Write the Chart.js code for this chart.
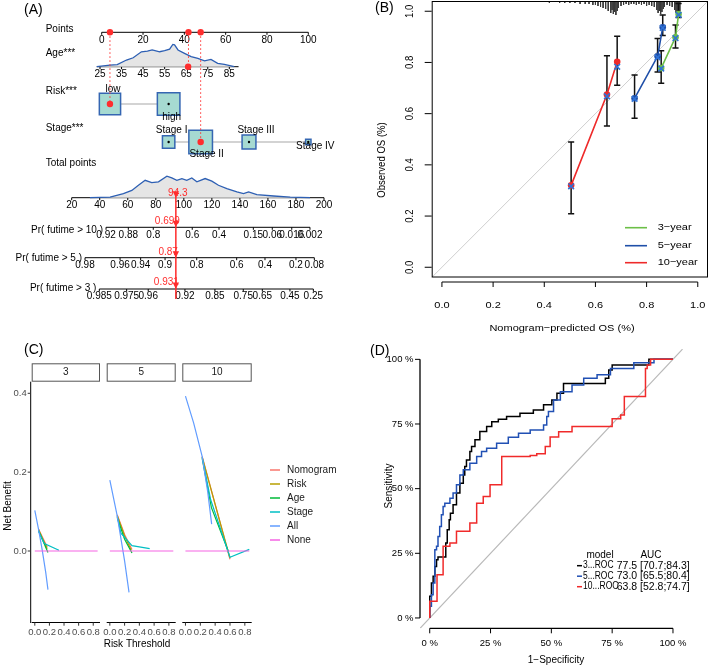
<!DOCTYPE html>
<html>
<head>
<meta charset="utf-8">
<script src="https://cdn.jsdelivr.net/npm/chart.js@4.4.1/dist/chart.umd.min.js"></script>
<style>
  html, body { margin: 0; padding: 0; background: #fff; }
  #fig { position: relative; width: 709px; height: 666px; overflow: hidden; background: #fff; }
  #fig canvas { position: absolute; left: 0; top: 0; }
</style>
</head>
<body>
<div id="fig">
  <canvas id="cA" width="709" height="666"></canvas>
  <canvas id="cB" width="709" height="666"></canvas>
  <canvas id="cC0" width="709" height="666"></canvas>
  <canvas id="cC1" width="709" height="666"></canvas>
  <canvas id="cC2" width="709" height="666"></canvas>
  <canvas id="cD" width="709" height="666"></canvas>
</div>
<script>
// ---------- (A) nomogram ----------
const pointTicks = [0, 20, 40, 60, 80, 100];
const ageTicks = [25, 35, 45, 55, 65, 75, 85];
const totalTicks = [20, 40, 60, 80, 100, 120, 140, 160, 180, 200];
const ageGrid = [23.5, 29.6, 33, 37.3, 40.4, 44.2, 47, 49.2, 52.7, 55, 57.3, 58.8, 59.6, 61.2, 64.2, 67.3, 70.4, 73.5, 76.5, 79.6, 82.7, 87.3];
const ageDensity = [0, 0.075, 0.09, 0.3, 0.4, 0.67, 0.7, 0.75, 0.67, 0.72, 0.79, 1.0, 0.98, 0.75, 0.6, 0.45, 0.37, 0.26, 0.33, 0.15, 0.1, 0];
const totalGrid = [33, 47.4, 56.9, 62.9, 67.6, 72.4, 77.1, 81.9, 87.9, 91.4, 95, 98.6, 102.1, 105.7, 109.3, 115.2, 120, 124.7, 130.7, 137.9, 142.6, 146.2, 152.1, 164, 175.9, 190];
const totalDensity = [0, 0.03, 0.19, 0.34, 0.58, 0.81, 0.7, 0.74, 1.0, 0.92, 0.81, 0.89, 0.81, 0.92, 0.74, 0.89, 0.77, 0.58, 0.42, 0.27, 0.19, 0.27, 0.14, 0.08, 0.03, 0];
const riskLevels = ['low', 'high'];
const riskPoints = [4, 32.4];
const riskFreq = [0.47, 0.53];
const stageLevels = ['Stage I', 'Stage II', 'Stage III', 'Stage IV'];
const stagePoints = [32.4, 47.9, 71.3, 100];
const stageFreq = [0.16, 0.58, 0.2, 0.03];
const obsAge = 65.9;
const obsRisk = 0, obsStage = 1;
const obsPoints = [4, 42, 47.9];
const obsTotal = 94.3;
const obsProb = ['0.699', '0.87', '0.931'];
const pr10Labels = ['0.92', '0.88', '0.8', '0.6', '0.4', '0.15', '0.06', '0.016', '0.002'];
const pr10AtTotal = [44.5, 60.4, 78.2, 106, 125.1, 149.6, 163.1, 177, 190];
const pr5Labels = ['0.98', '0.96', '0.94', '0.9', '0.8', '0.6', '0.4', '0.2', '0.08'];
const pr5AtTotal = [29.5, 54.5, 69.2, 86.6, 109.2, 137.7, 157.9, 180, 193.1];
const pr3Labels = ['0.985', '0.975', '0.96', '0.92', '0.85', '0.75', '0.65', '0.45', '0.25'];
const pr3AtTotal = [39.7, 59.2, 74.6, 100.8, 122.2, 142.4, 156, 175.7, 192.4];

// ---------- (B) calibration ----------
const calTicks = [0, 0.2, 0.4, 0.6, 0.8, 1.0];
const horizons = ['3\u2212year', '5\u2212year', '10\u2212year'];
const calPred3 = [0.857, 0.913, 0.925];
const calObs3 = [0.778, 0.898, 0.989];
const calLo3 = [0.719, 0.856, 0.976];
const calHi3 = [0.846, 0.946, 1.03];
const calCorr3 = [0.776, 0.895, 0.986];
const calPred5 = [0.753, 0.843, 0.863];
const calObs5 = [0.66, 0.824, 0.937];
const calLo5 = [0.582, 0.763, 0.905];
const calHi5 = [0.751, 0.894, 0.985];
const calCorr5 = [0.658, 0.82, 0.935];
const calPred10 = [0.505, 0.645, 0.685];
const calObs10 = [0.32, 0.675, 0.803];
const calLo10 = [0.209, 0.552, 0.711];
const calHi10 = [0.489, 0.826, 0.902];
const calCorr10 = [0.316, 0.668, 0.783];
const spikeX = [0.16, 0.2, 0.24, 0.28, 0.31, 0.34, 0.37, 0.4, 0.42, 0.44, 0.46, 0.48, 0.5, 0.52, 0.54, 0.56, 0.575, 0.59, 0.6, 0.61, 0.62, 0.63, 0.64, 0.65, 0.66, 0.665, 0.67, 0.675, 0.68, 0.685, 0.69, 0.7, 0.71, 0.72, 0.73, 0.74, 0.75, 0.76, 0.77, 0.78, 0.79, 0.8, 0.81, 0.82, 0.83, 0.84, 0.845, 0.85, 0.855, 0.86, 0.865, 0.87, 0.88, 0.89, 0.9, 0.91, 0.915, 0.92, 0.925, 0.93];
const spikeN = [1, 1, 1, 1, 1, 1, 1, 1, 2, 1, 2, 2, 2, 2, 3, 3, 3, 4, 4, 5, 6, 7, 8, 10, 12, 9, 13, 11, 14, 10, 7, 5, 4, 3, 4, 3, 3, 4, 3, 4, 3, 5, 4, 5, 6, 9, 12, 10, 13, 11, 8, 6, 4, 5, 6, 9, 12, 13, 12, 10];

// ---------- (C) decision curves ----------
const dcaModels = ['Nomogram', 'Risk', 'Age', 'Stage', 'All', 'None'];
const dcaFacets = ['3', '5', '10'];
const dcaXTicks = [0, 0.2, 0.4, 0.6, 0.8];
const dcaYTicks = [0, 0.2, 0.4];
const dcaNone = [[0, 0], [0.86, 0]];
const dcaNomogram3 = [[0.05, 0.056], [0.11, 0.033], [0.17, 0.01]];
const dcaRisk3 = [[0.05, 0.055], [0.11, 0.03], [0.17, 0.006]];
const dcaAge3 = [[0.05, 0.052], [0.12, 0.022], [0.18, -0.004]];
const dcaStage3 = [[0.05, 0.05], [0.13, 0.019], [0.33, 0.002]];
const dcaAll3 = [[0, 0.103], [0.05, 0.056], [0.1, 0.004], [0.15, -0.055], [0.18, -0.098]];
const dcaNomogram5 = [[0.1, 0.092], [0.2, 0.042], [0.3, 0.004]];
const dcaRisk5 = [[0.1, 0.09], [0.2, 0.038], [0.29, 0.002]];
const dcaAge5 = [[0.1, 0.085], [0.2, 0.03], [0.3, -0.005]];
const dcaStage5 = [[0.1, 0.088], [0.15, 0.045], [0.3, 0.0135], [0.54, 0.006]];
const dcaAll5 = [[0, 0.18], [0.1, 0.089], [0.2, -0.025], [0.26, -0.105]];
const dcaNomogram10 = [[0.225, 0.24], [0.6, -0.021]];
const dcaRisk10 = [[0.225, 0.238], [0.6, -0.018]];
const dcaAge10 = [[0.225, 0.235], [0.35, 0.11], [0.58, -0.002]];
const dcaStage10 = [[0.225, 0.238], [0.34, 0.13], [0.6, -0.016], [0.86, 0.004]];
const dcaAll10 = [[0, 0.393], [0.11, 0.325], [0.225, 0.24], [0.3, 0.15], [0.353, 0.068]];

// ---------- (D) ROC ----------
const rocTicks = [0, 0.25, 0.5, 0.75, 1];
const rocTickLabels = ['0 %', '25 %', '50 %', '75 %', '100 %'];
const rocModels = ['3...ROC', '5...ROC', '10...ROC'];
const rocAuc = ['77.5 [70.7;84.3]', '73.0 [65.5;80.4]', '63.8 [52.8;74.7]'];
// (FPR, TPR): climb to TPR at the previous FPR, then run right to this FPR
const roc3 = [[0, 0], [0.007, 0.084], [0.014, 0.135], [0.021, 0.161], [0.028, 0.199], [0.034, 0.225], [0.066, 0.236], [0.072, 0.29], [0.08, 0.341], [0.085, 0.38], [0.096, 0.405], [0.11, 0.438], [0.124, 0.483], [0.138, 0.521], [0.144, 0.553], [0.151, 0.586], [0.165, 0.611], [0.172, 0.644], [0.186, 0.663], [0.206, 0.689], [0.234, 0.721], [0.255, 0.74], [0.282, 0.759], [0.316, 0.768], [0.371, 0.779], [0.426, 0.792], [0.468, 0.804], [0.502, 0.824], [0.523, 0.843], [0.55, 0.869], [0.585, 0.907], [0.722, 0.907], [0.736, 0.927], [0.75, 0.959], [0.77, 0.978], [0.901, 0.978], [0.908, 1.0], [1, 1]];
const roc5 = [[0, 0], [0.007, 0.045], [0.014, 0.09], [0.021, 0.135], [0.028, 0.264], [0.034, 0.277], [0.041, 0.315], [0.048, 0.354], [0.055, 0.399], [0.062, 0.431], [0.083, 0.444], [0.096, 0.463], [0.11, 0.483], [0.124, 0.515], [0.138, 0.553], [0.165, 0.573], [0.193, 0.598], [0.213, 0.624], [0.234, 0.644], [0.275, 0.656], [0.323, 0.676], [0.365, 0.699], [0.413, 0.714], [0.468, 0.727], [0.481, 0.746], [0.488, 0.779], [0.509, 0.798], [0.537, 0.843], [0.585, 0.875], [0.633, 0.901], [0.688, 0.927], [0.743, 0.94], [0.839, 0.965], [0.922, 0.987], [0.942, 1.0], [1, 1]];
const roc10 = [[0, 0], [0.03, 0.065], [0.055, 0.167], [0.083, 0.277], [0.11, 0.29], [0.165, 0.335], [0.193, 0.367], [0.22, 0.444], [0.248, 0.47], [0.296, 0.515], [0.413, 0.624], [0.44, 0.628], [0.475, 0.635], [0.495, 0.663], [0.53, 0.7], [0.585, 0.72], [0.75, 0.74], [0.785, 0.77], [0.8, 0.785], [0.887, 0.856], [0.894, 0.965], [0.908, 0.978], [1, 1]];

// ---------- helpers ----------
const W = 709, H = 666;
const FONT = '"Liberation Sans", Arial, Helvetica, sans-serif';
const RED = '#ff2d2d';

// scale min/max so that value v0 lands on pixel p0 and v1 on p1
function fit(v0, p0, v1, p1, a0, a1) {
  const k = (p1 - p0) / (v1 - v0);
  return { min: v0 + (a0 - p0) / k, max: v0 + (a1 - p0) / k };
}
function lin(range, extra) {
  return Object.assign({ type: 'linear', display: false }, range, extra || {});
}
function text(ctx, s, x, y, o) {
  o = o || {};
  ctx.save();
  ctx.font = (o.size || 10) + 'px ' + FONT;
  ctx.fillStyle = o.color || '#000';
  ctx.textAlign = o.align || 'center';
  ctx.textBaseline = 'middle';
  ctx.translate(x, y);
  if (o.sy) ctx.scale(1, o.sy);
  if (o.rot) ctx.rotate(o.rot);
  if (o.maxW) ctx.fillText(s, 0, 0, o.maxW);
  else ctx.fillText(s, 0, 0);
  ctx.restore();
}
function seg(ctx, x1, y1, x2, y2, col, lw) {
  ctx.save();
  ctx.strokeStyle = col || '#000';
  ctx.lineWidth = lw || 1;
  ctx.beginPath();
  ctx.moveTo(x1, y1);
  ctx.lineTo(x2, y2);
  ctx.stroke();
  ctx.restore();
}
const xy = (xs, ys) => xs.map((x, i) => ({ x, y: ys[i] }));
const pairs = ps => ps.map(p => ({ x: p[0], y: p[1] }));
function lineDs(data, color, width, extra) {
  return Object.assign({ type: 'line', data, borderColor: color, borderWidth: width, pointRadius: 0, fill: false, tension: 0 }, extra || {});
}
function ptDs(data, extra) {
  return Object.assign({ type: 'scatter', data, pointRadius: 3, borderWidth: 0 }, extra || {});
}
function makeChart(id, area, scales, datasets, before, after) {
  datasets.forEach((d, i) => { d.order = -i; });   // later datasets on top
  return new Chart(document.getElementById(id), {
    type: 'scatter',
    data: { datasets },
    options: {
      responsive: false,
      animation: false,
      events: [],
      layout: { autoPadding: false, padding: { left: area.l, top: area.t, right: W - area.r, bottom: H - area.b } },
      plugins: { legend: { display: false }, tooltip: { enabled: false } },
      scales
    },
    plugins: [{
      id: 'deco_' + id,
      beforeDatasetsDraw: c => { if (before) before(c); },
      afterDatasetsDraw: c => { if (after) after(c); }
    }]
  });
}

// ================= (A) =================
const rowY = { points: 32.3, age: 66.7, risk: 104, stage: 142, total: 197.7, pr10: 227.3, pr5: 257.7, pr3: 289 };
const boxFill = '#a6dad1', boxLine = '#3566b2';
const boxRadius = f => 31 * Math.sqrt(f) / Math.SQRT2;

const scalesA = {
  xp: lin(fit(0, 101.7, 100, 308.3, 0, W), { axis: 'x' }),
  xa: lin(fit(25, 100, 85, 229.3, 0, W), { axis: 'x' }),
  xt: lin(fit(20, 71.7, 200, 324, 0, W), { axis: 'x' }),
  yr: lin({ min: 0, max: H }, { axis: 'y', reverse: true }),
  yad: lin(fit(0, rowY.age, 1, rowY.age - 22.3, H, 0), { axis: 'y' }),
  ytd: lin(fit(0, rowY.total, 1, rowY.total - 21.5, H, 0), { axis: 'y' })
};
const onP = { xAxisID: 'xp', yAxisID: 'yr' };
const guides = [];
[rowY.risk, rowY.age, rowY.stage].forEach((yEnd, i) => {
  guides.push({ x: obsPoints[i], y: rowY.points }, { x: obsPoints[i], y: yEnd }, { x: obsPoints[i], y: null });
});
const blackDots = [];
riskPoints.forEach((p, i) => { if (i !== obsRisk) blackDots.push({ x: p, y: rowY.risk }); });
stagePoints.forEach((p, i) => { if (i !== obsStage) blackDots.push({ x: p, y: rowY.stage }); });

const dsA = [
  lineDs(xy(ageGrid, ageDensity), '#2d5fb3', 1.3, { xAxisID: 'xa', yAxisID: 'yad', fill: 'origin', backgroundColor: '#e5e5e5' }),
  lineDs(xy(totalGrid, totalDensity), '#2d5fb3', 1.3, { xAxisID: 'xt', yAxisID: 'ytd', fill: 'origin', backgroundColor: '#e5e5e5' }),
  lineDs([{ x: riskPoints[0], y: rowY.risk }, { x: riskPoints[1], y: rowY.risk }], '#c4c4c4', 1.6, onP),
  lineDs([{ x: stagePoints[0], y: rowY.stage }, { x: stagePoints[3], y: rowY.stage }], '#c4c4c4', 1.6, onP),
  ptDs(riskPoints.map(p => ({ x: p, y: rowY.risk })), Object.assign({ pointStyle: 'rect', pointRadius: riskFreq.map(boxRadius), backgroundColor: boxFill, borderColor: boxLine, borderWidth: 1.5 }, onP)),
  ptDs(stagePoints.map(p => ({ x: p, y: rowY.stage })), Object.assign({ pointStyle: 'rect', pointRadius: stageFreq.map(boxRadius), backgroundColor: boxFill, borderColor: boxLine, borderWidth: 1.5 }, onP)),
  ptDs(blackDots, Object.assign({ pointRadius: 1.2, backgroundColor: '#000' }, onP)),
  lineDs(guides, RED, 1, Object.assign({ borderDash: [1.5, 2.5] }, onP)),
  ptDs(obsPoints.map(p => ({ x: p, y: rowY.points })).concat([{ x: riskPoints[obsRisk], y: rowY.risk }, { x: stagePoints[obsStage], y: rowY.stage }]), Object.assign({ pointRadius: 3.2, backgroundColor: RED }, onP)),
  ptDs([{ x: obsAge, y: rowY.age }], { xAxisID: 'xa', yAxisID: 'yr', pointRadius: 3.2, backgroundColor: RED }),
  lineDs([{ x: obsTotal, y: rowY.total - 3 }, { x: obsTotal, y: rowY.pr3 + 10 }], RED, 1.5, { xAxisID: 'xt', yAxisID: 'yr' })
];

function axisH(ctx, px, y, ticks, labels, from, to) {
  seg(ctx, px(from), y, px(to), y, '#000', 1);
  ticks.forEach((t, i) => {
    const x = px(t);
    seg(ctx, x, y, x, y + 2.5, '#000', 1);
    text(ctx, labels[i], x, y + 7.5, { size: 10 });
  });
}
function drawAxesA(c) {
  const ctx = c.ctx, s = c.scales;
  const xp = v => s.xp.getPixelForValue(v), xa = v => s.xa.getPixelForValue(v), xt = v => s.xt.getPixelForValue(v);
  axisH(ctx, xp, rowY.points, pointTicks, pointTicks.map(String), 0, 100);
  axisH(ctx, xa, rowY.age, ageTicks, ageTicks.map(String), ageGrid[0], 89.3);
  axisH(ctx, xt, rowY.total, totalTicks, totalTicks.map(String), 20, 200);
  axisH(ctx, xt, rowY.pr10, pr10AtTotal, pr10Labels, pr10AtTotal[0], pr10AtTotal[8]);
  axisH(ctx, xt, rowY.pr5, pr5AtTotal, pr5Labels, pr5AtTotal[0], pr5AtTotal[8]);
  axisH(ctx, xt, rowY.pr3, pr3AtTotal, pr3Labels, pr3AtTotal[0], pr3AtTotal[8]);
}
function drawTopA(c) {
  const ctx = c.ctx, s = c.scales;
  const xp = v => s.xp.getPixelForValue(v), xt = v => s.xt.getPixelForValue(v);
  text(ctx, '(A)', 24, 10, { size: 14, align: 'left' });
  text(ctx, 'Points', 45.7, rowY.points - 3, { align: 'left' });
  text(ctx, 'Age***', 45.7, 53.3, { align: 'left' });
  text(ctx, 'Risk***', 45.7, 91.7, { align: 'left' });
  text(ctx, 'Stage***', 45.7, 128.3, { align: 'left' });
  text(ctx, 'Total points', 45.7, 163.3, { align: 'left' });
  text(ctx, 'Pr( futime > 10 )', xt(pr10AtTotal[0]) - 3, rowY.pr10 + 3, { align: 'right' });
  text(ctx, 'Pr( futime > 5 )', xt(pr5AtTotal[0]) - 3, rowY.pr5 + 1, { align: 'right' });
  text(ctx, 'Pr( futime > 3 )', xt(pr3AtTotal[0]) - 3, rowY.pr3 - 1, { align: 'right' });
  // level labels beside the boxes
  text(ctx, riskLevels[0], xp(riskPoints[0]) + 3, 89.3);
  text(ctx, riskLevels[1], xp(riskPoints[1]) + 3, 117);
  const stDx = [3, 6, 7, 7], stY = [130.7, 154.5, 130, 146];
  stageLevels.forEach((l, i) => text(ctx, l, xp(stagePoints[i]) + stDx[i], stY[i]));
  // red arrows and values
  const ax = xt(obsTotal);
  ctx.save();
  ctx.fillStyle = RED;
  [rowY.total, rowY.pr10, rowY.pr5, rowY.pr3].forEach(y => {
    ctx.beginPath(); ctx.moveTo(ax - 3.2, y - 6.5); ctx.lineTo(ax + 3.2, y - 6.5); ctx.lineTo(ax, y); ctx.closePath(); ctx.fill();
  });
  ctx.restore();
  text(ctx, String(obsTotal), ax + 2, rowY.total - 4, { color: RED });
  text(ctx, obsProb[0], ax + 4, rowY.pr10 - 5.6, { color: RED, align: 'right' });
  text(ctx, obsProb[1], ax + 2, rowY.pr5 - 5, { color: RED, align: 'right' });
  text(ctx, obsProb[2], ax + 3, rowY.pr3 - 7, { color: RED, align: 'right' });
}
makeChart('cA', { l: 0, t: 0, r: W, b: H }, scalesA, dsA, drawAxesA, drawTopA);

// ================= (B) =================
const calGreen = '#6cbf47', calBlue = '#1f4fa8', calRed = '#ee2a2a', corrBlue = '#2f72d6';
function errBars(pred, lo, hi) {
  const d = [], w = 0.012;
  pred.forEach((p, i) => {
    d.push({ x: p, y: lo[i] }, { x: p, y: hi[i] }, { x: p, y: null },
      { x: p - w, y: hi[i] }, { x: p + w, y: hi[i] }, { x: p, y: null },
      { x: p - w, y: lo[i] }, { x: p + w, y: lo[i] }, { x: p, y: null });
  });
  return d;
}
const spikes = [];
spikeX.forEach((x, i) => { spikes.push({ x, y: 1.04 }, { x, y: 1.04 - spikeN[i] * 0.0039 }, { x, y: null }); });
const dsB = [
  lineDs([{ x: -0.04, y: -0.04 }, { x: 1.04, y: 1.04 }], '#cfcfcf', 1),
  lineDs(spikes, '#3a3a3a', 1),
  lineDs(errBars(calPred10, calLo10, calHi10).concat(errBars(calPred5, calLo5, calHi5), errBars(calPred3, calLo3, calHi3)), '#111', 1.5),
  lineDs(xy(calPred10, calObs10), calRed, 1.6),
  lineDs(xy(calPred5, calObs5), calBlue, 1.6),
  lineDs(xy(calPred3, calObs3), calGreen, 1.6),
  ptDs(xy(calPred10, calObs10), { pointRadius: 3.3, backgroundColor: calRed }),
  ptDs(xy(calPred5, calObs5), { pointRadius: 3.3, backgroundColor: calBlue }),
  ptDs(xy(calPred3, calObs3), { pointRadius: 3.3, backgroundColor: calGreen }),
  ptDs(xy(calPred10, calCorr10).concat(xy(calPred5, calCorr5), xy(calPred3, calCorr3)), { pointStyle: 'crossRot', pointRadius: 4, borderColor: corrBlue, borderWidth: 1.6 })
];
function drawB(c) {
  const ctx = c.ctx, a = c.chartArea, x = c.scales.x, y = c.scales.y;
  const sq = 0.87;
  ctx.save(); ctx.strokeStyle = '#000'; ctx.lineWidth = 1;
  ctx.strokeRect(a.left + 0.5, a.top + 0.5, a.right - a.left - 1, a.bottom - a.top - 1);
  ctx.restore();
  calTicks.forEach(t => {
    const py = y.getPixelForValue(t);
    seg(ctx, a.left, py, a.left - 7, py, '#000', 1);
    text(ctx, t.toFixed(1), 410, py, { size: 11, rot: -Math.PI / 2, sy: sq });
    const px = x.getPixelForValue(t);
    seg(ctx, px, 282, px, 287, '#000', 1);
    text(ctx, t.toFixed(1), px, 305, { size: 11, sy: sq });
  });
  seg(ctx, x.getPixelForValue(0), 282, x.getPixelForValue(1), 282, '#000', 1);
  text(ctx, '(B)', 375, 8.5, { size: 14, align: 'left' });
  text(ctx, 'Observed OS (%)', 381.7, 160, { size: 11, rot: -Math.PI / 2, sy: sq });
  text(ctx, 'Nomogram\u2212predicted OS (%)', 562, 328, { size: 11, sy: sq });
  [calGreen, calBlue, calRed].forEach((col, i) => {
    const ly = [227.7, 245.7, 262.7][i];
    seg(ctx, 625, ly, 647, ly, col, 1.6);
    text(ctx, horizons[i], 657.7, ly, { size: 11, align: 'left', sy: sq });
  });
}
makeChart('cB', { l: 431.7, t: 1, r: 708, b: 277.5 }, { x: lin({ min: -0.04, max: 1.04 }), y: lin({ min: -0.04, max: 1.04 }) }, dsB, null, drawB);

// ================= (C) =================
const dcaColors = ['#F8766D', '#B79F00', '#00BA38', '#00BFC4', '#619CFF', '#F564E3'];
const dcaSeries = [
  [dcaNomogram3, dcaRisk3, dcaAge3, dcaStage3, dcaAll3, dcaNone],
  [dcaNomogram5, dcaRisk5, dcaAge5, dcaStage5, dcaAll5, dcaNone],
  [dcaNomogram10, dcaRisk10, dcaAge10, dcaStage10, dcaAll10, dcaNone]
];
const facetL = [31.7, 106.7, 182.3], facetR = [100, 175.7, 251.7];
const cTop = 381.7, cBot = 621.7;
const GREY = '#4d4d4d';
function drawC(k) {
  return c => {
    const ctx = c.ctx, a = c.chartArea, x = c.scales.x, y = c.scales.y;
    // strip
    ctx.save();
    ctx.fillStyle = '#fff'; ctx.strokeStyle = '#555'; ctx.lineWidth = 1;
    ctx.fillRect(a.left, 363.3, a.right - a.left, cTop - 363.3);
    ctx.strokeRect(a.left + 0.5, 363.8, a.right - a.left - 1, cTop - 364.3);
    ctx.restore();
    text(ctx, dcaFacets[k], (a.left + a.right) / 2, 372.5, { size: 10, color: '#1a1a1a' });
    // x axis
    seg(ctx, a.left, a.bottom + 0.8, a.right, a.bottom + 0.8, '#000', 1);
    dcaXTicks.forEach(t => {
      const px = x.getPixelForValue(t);
      seg(ctx, px, a.bottom + 0.8, px, a.bottom + 4, '#333', 1);
      text(ctx, t.toFixed(1), px, 632, { size: 9.5, color: GREY });
    });
    if (k === 0) {
      seg(ctx, a.left - 1, cTop, a.left - 1, a.bottom + 1.3, '#000', 1);
      dcaYTicks.forEach(t => {
        const py = y.getPixelForValue(t);
        seg(ctx, a.left - 1, py, a.left - 4, py, '#333', 1);
        text(ctx, t.toFixed(1), a.left - 5, py, { size: 9.5, color: GREY, align: 'right' });
      });
      text(ctx, '(C)', 24, 350, { size: 14, align: 'left' });
      text(ctx, 'Net Benefit', 8, 506, { size: 10, rot: -Math.PI / 2 });
      text(ctx, 'Risk Threshold', 137, 644.3, { size: 10 });
      dcaModels.forEach((m, i) => {
        const ly = 470 + i * 14;
        seg(ctx, 270, ly, 280, ly, dcaColors[i], 1.5);
        text(ctx, m, 287, ly, { size: 10, align: 'left', color: '#1a1a1a' });
      });
    }
  };
}
dcaSeries.forEach((list, k) => {
  const ds = list.map((s, i) => lineDs(pairs(s), dcaColors[i], 1.2));
  makeChart('cC' + k, { l: facetL[k], t: cTop, r: facetR[k], b: cBot },
    { x: lin({ min: -0.0425, max: 0.8925 }), y: lin(fit(0, 551, 0.4, 393.3, cBot, cTop)) },
    ds, null, drawC(k));
});

// ================= (D) =================
const rocColors = ['#000000', '#2150b4', '#f02a2a'];
function stairs(ps) {
  const d = [{ x: ps[0][0], y: ps[0][1] }];
  for (let i = 1; i < ps.length; i++) {
    d.push({ x: ps[i - 1][0], y: ps[i][1] }, { x: ps[i][0], y: ps[i][1] });
  }
  return d;
}
const dsD = [
  lineDs([{ x: -0.04, y: -0.04 }, { x: 1.04, y: 1.04 }], '#b8b8b8', 1.2),
  lineDs(stairs(roc3), rocColors[0], 1.5),
  lineDs(stairs(roc5), rocColors[1], 1.5),
  lineDs(stairs(roc10), rocColors[2], 1.5)
];
function drawD(c) {
  const ctx = c.ctx, a = c.chartArea, x = c.scales.x, y = c.scales.y;
  seg(ctx, a.left, y.getPixelForValue(0), a.left, y.getPixelForValue(1), '#000', 1.3);
  seg(ctx, x.getPixelForValue(0), a.bottom, x.getPixelForValue(1), a.bottom, '#000', 1.3);
  rocTicks.forEach((t, i) => {
    const py = y.getPixelForValue(t);
    seg(ctx, a.left, py, a.left - 5, py, '#000', 1);
    text(ctx, rocTickLabels[i], a.left - 6.5, py, { size: 9.5, align: 'right' });
    const px = x.getPixelForValue(t);
    seg(ctx, px, a.bottom, px, a.bottom + 5, '#000', 1);
    text(ctx, rocTickLabels[i], px, 643.3, { size: 9.5 });
  });
  text(ctx, '(D)', 370, 351, { size: 14, align: 'left' });
  text(ctx, 'Sensitivity', 389, 486, { size: 10, rot: -Math.PI / 2 });
  text(ctx, '1\u2212Specificity', 556, 660, { size: 10 });
  text(ctx, 'model', 600, 555.5, { size: 10 });
  text(ctx, 'AUC', 651, 555.5, { size: 10 });
  const nameW = [30.5, 30.5, 35.5];
  rocModels.forEach((m, i) => {
    const ly = 565.7 + i * 10.5;
    seg(ctx, 577, ly, 582, ly, rocColors[i], 1.5);
    text(ctx, m, 583, ly, { size: 10, align: 'left', maxW: nameW[i] });
    text(ctx, rocAuc[i], 616.7, ly, { size: 10.5, align: 'left', maxW: 75 });
  });
}
makeChart('cD', { l: 420, t: 349, r: 682.7, b: 628.3 }, { x: lin({ min: -0.04, max: 1.04 }), y: lin({ min: -0.04, max: 1.04 }) }, dsD, null, drawD);
</script>
</body>
</html>
